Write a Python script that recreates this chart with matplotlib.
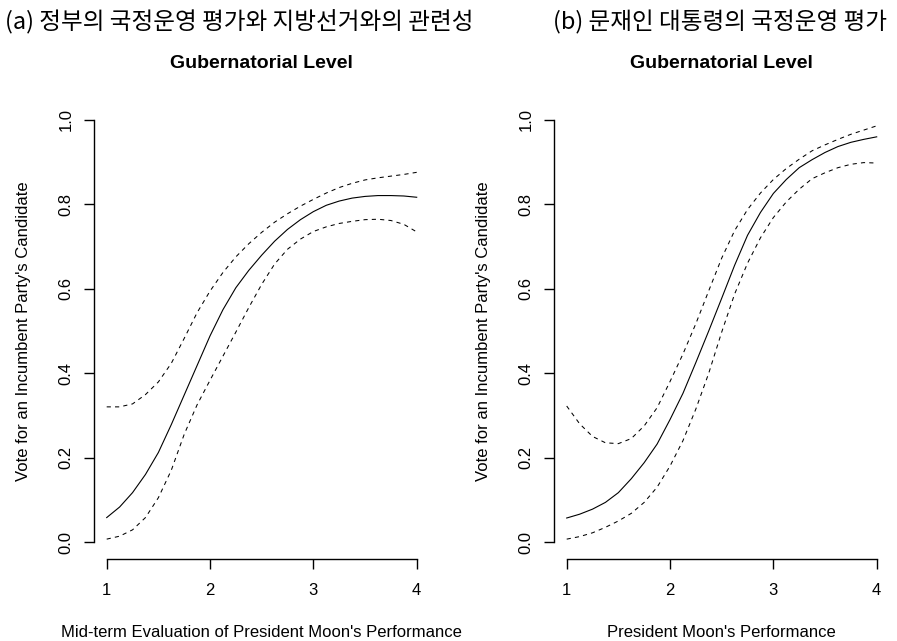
import matplotlib
matplotlib.use("Agg")
import matplotlib.pyplot as plt

# Predicted probability of voting for the incumbent party's candidate,
# with upper and lower confidence bounds, over the evaluation scale 1-4
eval_grid = [1.0, 1.125, 1.25, 1.375, 1.5, 1.625, 1.75, 1.875, 2.0, 2.125, 2.25, 2.375, 2.5,
             2.625, 2.75, 2.875, 3.0, 3.125, 3.25, 3.375, 3.5, 3.625, 3.75, 3.875, 4.0]

midterm_fit = [0.058, 0.083, 0.117, 0.160, 0.212, 0.278, 0.348, 0.418, 0.488, 0.550, 0.602, 0.643, 0.679,
               0.712, 0.740, 0.763, 0.782, 0.797, 0.807, 0.814, 0.818, 0.820, 0.820, 0.819, 0.816]
midterm_upper = [0.320, 0.320, 0.327, 0.349, 0.379, 0.423, 0.482, 0.543, 0.594, 0.638, 0.675, 0.706, 0.733,
                 0.757, 0.777, 0.795, 0.811, 0.826, 0.839, 0.849, 0.857, 0.862, 0.866, 0.870, 0.875]
midterm_lower = [0.007, 0.014, 0.029, 0.058, 0.105, 0.170, 0.255, 0.325, 0.383, 0.440, 0.497, 0.555, 0.610,
                 0.658, 0.693, 0.717, 0.735, 0.746, 0.754, 0.759, 0.763, 0.764, 0.761, 0.752, 0.734]

moon_fit = [0.057, 0.066, 0.078, 0.094, 0.117, 0.150, 0.188, 0.232, 0.290, 0.352, 0.425, 0.500, 0.577,
            0.655, 0.726, 0.780, 0.825, 0.858, 0.886, 0.905, 0.922, 0.936, 0.946, 0.953, 0.959]
moon_upper = [0.322, 0.280, 0.250, 0.235, 0.233, 0.245, 0.275, 0.318, 0.380, 0.445, 0.517, 0.595, 0.672,
              0.737, 0.787, 0.826, 0.858, 0.884, 0.906, 0.926, 0.940, 0.953, 0.965, 0.975, 0.985]
moon_lower = [0.007, 0.013, 0.022, 0.035, 0.050, 0.068, 0.094, 0.130, 0.180, 0.240, 0.315, 0.400, 0.497,
              0.587, 0.660, 0.720, 0.768, 0.805, 0.835, 0.860, 0.874, 0.886, 0.894, 0.898, 0.897]

x_ticks = [1, 2, 3, 4]
y_ticks = [0.0, 0.2, 0.4, 0.6, 0.8, 1.0]
y_ticklabels = ["0.0", "0.2", "0.4", "0.6", "0.8", "1.0"]

panel_titles = ["(a) 정부의 국정운영 평가와 지방선거와의 관련성", "(b) 문재인 대통령의 국정운영 평가"]
plot_title = "Gubernatorial Level"
x_labels = ["Mid-term Evaluation of President Moon's Performance", "President Moon's Performance"]
y_label = "Vote for an Incumbent Party's Candidate"

plt.rcParams["font.family"] = ["Liberation Sans", "DejaVu Sans"]

W, H = 897, 641
fig = plt.figure(figsize=(W / 100, H / 100), dpi=100)


def px_rect(x0, x1, ytop, ybot):
    return [x0 / W, 1 - ybot / H, (x1 - x0) / W, (ybot - ytop) / H]


rects = [px_rect(94.3, 429.1, 102.6, 559.0), px_rect(554.3, 889.1, 102.6, 559.0)]
series = [(midterm_fit, midterm_upper, midterm_lower), (moon_fit, moon_upper, moon_lower)]
panel_x = [5, 553]

for i, (rect, (fit, up, lo)) in enumerate(zip(rects, series)):
    ax = fig.add_axes(rect)
    ax.plot(eval_grid, fit, color="black", lw=0.8)
    ax.plot(eval_grid, up, color="black", lw=0.75, linestyle=(0, (4, 4)))
    ax.plot(eval_grid, lo, color="black", lw=0.75, linestyle=(0, (4, 4)))
    ax.set_xlim(0.88, 4.12)
    ax.set_ylim(-0.04, 1.04)
    for s in ["top", "right"]:
        ax.spines[s].set_visible(False)
    ax.spines["left"].set_bounds(0, 1)
    ax.spines["bottom"].set_bounds(1, 4)
    for s in ["left", "bottom"]:
        ax.spines[s].set_linewidth(1.0)
    ax.set_xticks(x_ticks)
    ax.set_xticklabels([str(t) for t in x_ticks])
    ax.set_yticks(y_ticks)
    ax.set_yticklabels(y_ticklabels, rotation=90, va="center")
    ax.tick_params(axis="both", length=7, width=1.0, labelsize=12, color="black")
    ax.tick_params(axis="x", pad=10)
    ax.tick_params(axis="y", pad=8)
    ax.set_xlabel(x_labels[i], fontsize=12, labelpad=20)
    ax.set_ylabel(y_label, fontsize=12, labelpad=20)
    ax.set_title(plot_title, fontsize=14, fontweight="bold", pad=25)
    fig.text(panel_x[i] / W, 1 - 22 / H, panel_titles[i], fontsize=17, fontweight="light",
             family=["Noto Sans CJK KR", "DejaVu Sans"], ha="left", va="center")

fig.savefig("out.png", dpi=100)
